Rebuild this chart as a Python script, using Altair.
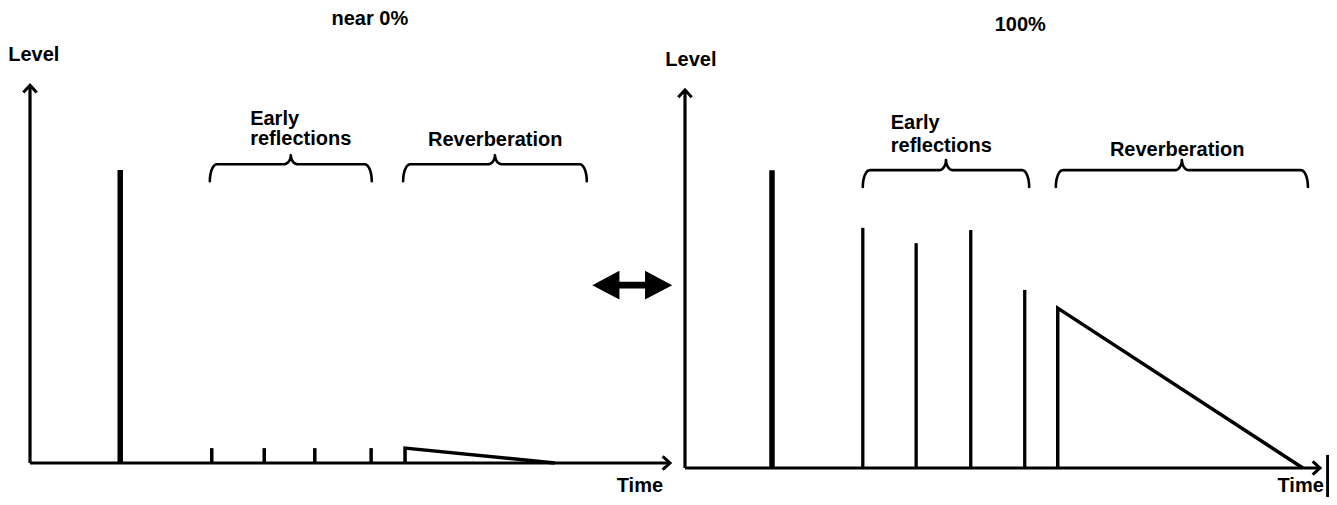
import altair as alt
import pandas as pd
import numpy as np

# ---------------- data (time / level units, axis origin = 0) ----------------
panel_titles = ["near 0%", "100%"]
axis_labels_y = ["Level", "Level"]
axis_labels_x = ["Time", "Time"]

axis_time_end = [100.0, 100.0]
axis_level_end = [104.1, 103.6]

direct_time = [14.1, 13.7]
direct_level = [80.7, 81.6]

er_time_left = [28.4, 36.6, 44.5, 53.3]
er_level_left = [4.1, 4.1, 4.1, 4.1]
er_time_right = [28.0, 36.4, 45.0, 53.5]
er_level_right = [65.8, 61.6, 65.2, 48.8]

reverb_time_left = [58.6, 58.6, 82.0]
reverb_level_left = [0.0, 4.1, 0.0]
reverb_time_right = [58.7, 58.7, 97.3]
reverb_level_right = [0.0, 43.8, 0.0]

brace_start_left = [28.1, 58.3]
brace_end_left = [53.4, 87.0]
brace_start_right = [28.0, 58.4]
brace_end_right = [54.2, 98.1]
brace_levels_left = [77.6, 82.3, 84.8]    # end, mid, peak
brace_levels_right = [77.0, 81.6, 84.4]

early_label_pos_left = [34.4, 94.8, 89.3]   # time, level line1, level line2
early_label_pos_right = [32.4, 94.5, 88.2]
reverb_label_pos_left = [72.7, 89.0]
reverb_label_pos_right = [77.5, 87.1]

title_pos_left = [53.1, 122.3]
title_pos_right = [52.8, 121.4]
level_pos_left = [-3.4, 112.4]
level_pos_right = [-3.1, 111.8]
time_pos_left = [95.3, -9.2]
time_pos_right = [100.6, -7.8]

double_arrow_pos = [94.1, 49.0]   # in left panel units
edge_line = [101.2, 3.6, -8.5]    # right panel scan edge: time, level top, level bottom

# ---------------- helpers ----------------
FONT = "Liberation Sans"
BLACK = "#000000"
FS = 20


def brace_df(x0, x1, lv, rx_end=1.1, rx_mid=1.1, n=10):
    y_end, y_mid, y_peak = lv
    c = (x0 + x1) / 2
    half = []
    for k in range(n + 1):
        t = k / n * np.pi / 2
        half.append((x0 + rx_end - rx_end * np.cos(t), y_end + (y_mid - y_end) * np.sin(t)))
    for k in range(n + 1):
        t = k / n * np.pi / 2
        half.append((c - rx_mid + rx_mid * np.sin(t), y_peak - (y_peak - y_mid) * np.cos(t)))
    full = half + [(x0 + x1 - x, y) for (x, y) in reversed(half)]
    return [{"t": x, "v": y} for x, y in full]


def panel_layers(side):
    if side == "left":
        xs = alt.Scale(domain=[0, 100], range=[22, 662], nice=False, zero=False)
        ys = alt.Scale(domain=[0, 100], range=[455, 92], nice=False, zero=False)
        idx = 0
        er_t, er_v = er_time_left, er_level_left
        rv_t, rv_v = reverb_time_left, reverb_level_left
        b_s, b_e, b_l = brace_start_left, brace_end_left, brace_levels_left
        ep, rp = early_label_pos_left, reverb_label_pos_left
        tp, lp, mp = title_pos_left, level_pos_left, time_pos_left
        er_w = 3.5
        time_align = "center"
    else:
        xs = alt.Scale(domain=[0, 100], range=[677, 1312], nice=False, zero=False)
        ys = alt.Scale(domain=[0, 100], range=[460, 95], nice=False, zero=False)
        idx = 1
        er_t, er_v = er_time_right, er_level_right
        rv_t, rv_v = reverb_time_right, reverb_level_right
        b_s, b_e, b_l = brace_start_right, brace_end_right, brace_levels_right
        ep, rp = early_label_pos_right, reverb_label_pos_right
        tp, lp, mp = title_pos_right, level_pos_right, time_pos_right
        er_w = 3.3
        time_align = "right"

    X = lambda f="t": alt.X(f"{f}:Q", scale=xs, axis=None)
    Y = lambda f="v": alt.Y(f"{f}:Q", scale=ys, axis=None)
    tx, ly = axis_time_end[idx], axis_level_end[idx]

    layers = []
    # axes
    layers.append(alt.Chart(pd.DataFrame({"t": [0], "v": [0], "v2": [ly]}))
                  .mark_rule(color=BLACK, strokeWidth=3.2)
                  .encode(x=X(), y=Y(), y2="v2:Q"))
    layers.append(alt.Chart(pd.DataFrame({"t": [0], "t2": [tx], "v": [0]}))
                  .mark_rule(color=BLACK, strokeWidth=3.2)
                  .encode(x=X(), x2="t2:Q", y=Y()))
    # arrow heads
    layers.append(alt.Chart(pd.DataFrame({"t": [0], "v": [ly]}))
                  .mark_point(shape="M-1,1.1L0,0L1,1.1", filled=False, size=180,
                              strokeWidth=3, color=BLACK, opacity=1)
                  .encode(x=X(), y=Y()))
    layers.append(alt.Chart(pd.DataFrame({"t": [tx], "v": [0]}))
                  .mark_point(shape="M-1.1,-1L0,0L-1.1,1", filled=False, size=180,
                              strokeWidth=3, color=BLACK, opacity=1)
                  .encode(x=X(), y=Y()))
    # direct sound
    layers.append(alt.Chart(pd.DataFrame({"t": [direct_time[idx]], "v": [0], "v2": [direct_level[idx]]}))
                  .mark_rule(color=BLACK, strokeWidth=5.5)
                  .encode(x=X(), y=Y(), y2="v2:Q"))
    # early reflections
    layers.append(alt.Chart(pd.DataFrame({"t": er_t, "v": [0] * len(er_t), "v2": er_v}))
                  .mark_rule(color=BLACK, strokeWidth=er_w)
                  .encode(x=X(), y=Y(), y2="v2:Q"))
    # reverberation envelope
    layers.append(alt.Chart(pd.DataFrame({"t": rv_t, "v": rv_v, "i": list(range(len(rv_t)))}))
                  .mark_line(color=BLACK, strokeWidth=3.5, strokeJoin="miter")
                  .encode(x=X(), y=Y(), order="i:Q"))
    # braces
    rows = []
    for b, (s, e) in enumerate(zip(b_s, b_e)):
        for i, p in enumerate(brace_df(s, e, b_l)):
            rows.append({"id": b, "i": i, **p})
    layers.append(alt.Chart(pd.DataFrame(rows))
                  .mark_line(color=BLACK, strokeWidth=2.6, strokeCap="round", strokeJoin="round")
                  .encode(x=X(), y=Y(), detail="id:N", order="i:Q"))

    # texts
    def txt(t, v, s, align, baseline="middle"):
        return (alt.Chart(pd.DataFrame({"t": [t], "v": [v], "s": [s]}))
                .mark_text(font=FONT, fontSize=FS, fontWeight="bold", color=BLACK,
                           align=align, baseline=baseline)
                .encode(x=X(), y=Y(), text="s:N"))
    layers.append(txt(ep[0], ep[1], "Early", "left"))
    layers.append(txt(ep[0], ep[2], "reflections", "left"))
    layers.append(txt(rp[0], rp[1], "Reverberation", "center"))
    layers.append(txt(tp[0], tp[1], panel_titles[idx], "center"))
    layers.append(txt(lp[0], lp[1], axis_labels_y[idx], "left"))
    layers.append(txt(mp[0], mp[1], axis_labels_x[idx], time_align, "bottom"))

    if side == "left":
        arrow = ("M-1,0L-0.32,-0.36L-0.32,-0.085L0.32,-0.085L0.32,-0.36L1,0"
                 "L0.32,0.36L0.32,0.085L-0.32,0.085L-0.32,0.36Z")
        layers.append(alt.Chart(pd.DataFrame({"t": [double_arrow_pos[0]], "v": [double_arrow_pos[1]]}))
                      .mark_point(shape=arrow, filled=True, size=6400, color=BLACK,
                                  opacity=1, strokeWidth=0)
                      .encode(x=X(), y=Y()))
    else:
        layers.append(alt.Chart(pd.DataFrame({"t": [edge_line[0]], "v": [edge_line[1]], "v2": [edge_line[2]]}))
                      .mark_rule(color=BLACK, strokeWidth=3)
                      .encode(x=X(), y=Y(), y2="v2:Q"))
    return layers


chart = (
    alt.layer(*panel_layers("left"), *panel_layers("right"))
    .resolve_scale(x="independent", y="independent")
    .properties(width=1321, height=489, padding=0,
                autosize=alt.AutoSizeParams(type="none"), background="white")
    .configure_view(stroke=None)
)

chart.save("out.html", embed_options={"renderer": "svg", "actions": False})
